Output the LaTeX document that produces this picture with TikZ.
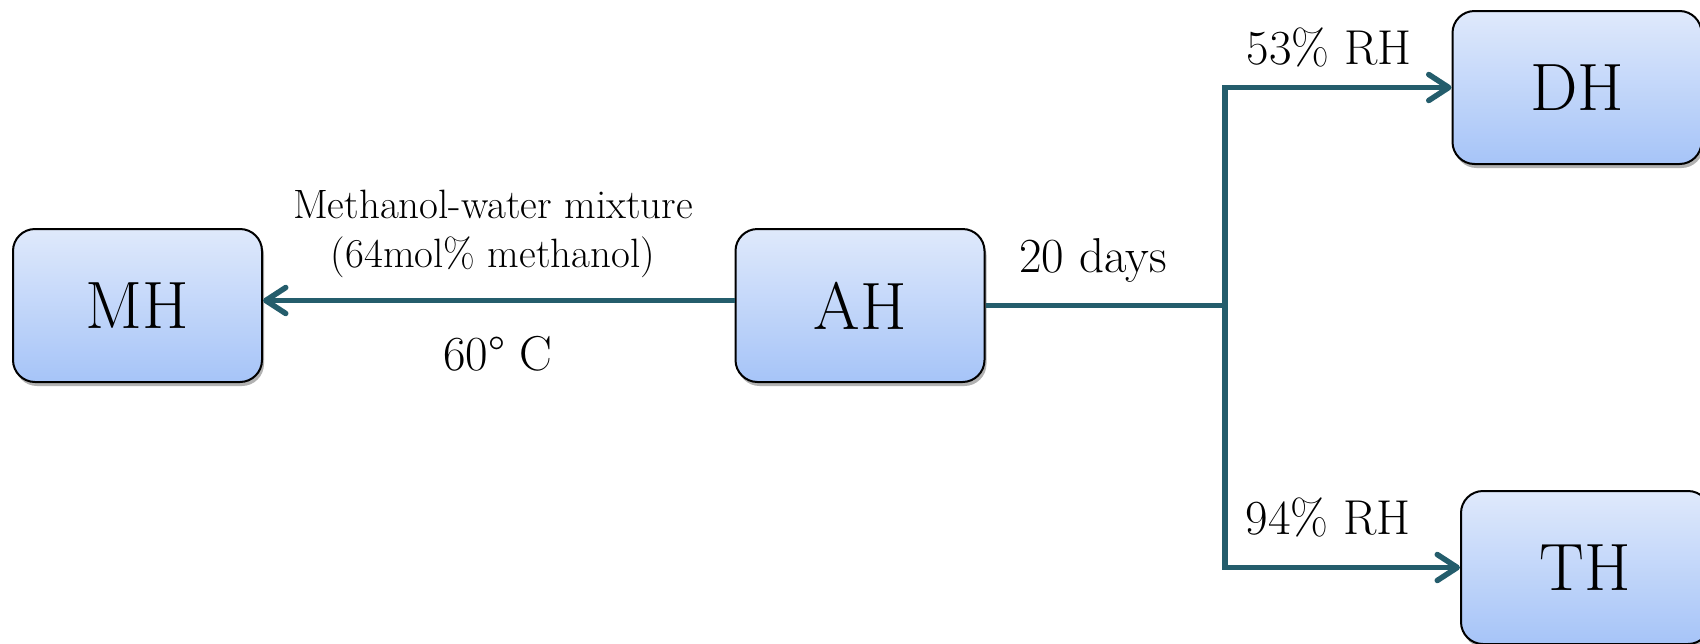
\documentclass[tikz,border=0pt]{standalone}
\usepackage{fontspec}
\usetikzlibrary{arrows.meta,shadows}
\definecolor{linec}{HTML}{245D6C}
\definecolor{boxtop}{HTML}{DFE9FB}
\definecolor{boxbot}{HTML}{A6C4F8}
\tikzset{
  box/.style={draw=black, line width=2pt, rounded corners=22pt,
    minimum width=249pt, minimum height=153pt, inner sep=0pt,
    top color=boxtop, bottom color=boxbot,
    drop shadow={shadow xshift=2pt, shadow yshift=-4pt, opacity=0.3, fill=black},
    font=\fontsize{67}{72}\selectfont},
  conn/.style={draw=linec, line width=5.5pt},
  arr/.style={conn, -{Straight Barb[length=20pt,width=26pt,line cap=round,line join=round]}},
  lab/.style={anchor=base, inner sep=0pt, font=\fontsize{49}{54}\selectfont},
  smalllab/.style={anchor=base, inner sep=0pt, font=\fontsize{41}{45}\selectfont}
}
\begin{document}
\begin{tikzpicture}[x=1pt,y=-1pt]
\useasboundingbox (0,0) rectangle (1700,643);
\node[box] (MH) at (137.5,305.5) {MH};
\node[box] (AH) at (860,305.5) {AH};
\node[box] (DH) at (1577,87.5) {DH};
\node[box] (TH) at (1585.5,567.5) {TH};
\coordinate (J) at (1225,305.5);
\draw[arr] ([yshift=5pt]AH.west) -- ([yshift=5pt]MH.east);
\draw[conn] (AH.east) -- (J);
\draw[arr] ([yshift=-2.75pt]J) |- (DH.west);
\draw[arr] ([yshift=2.75pt]J) |- (TH.west);
\node[smalllab] (t1) at (493,218) {Methanol-water mixture};
\node[smalllab] (t2) at (493,267) {(64mol\% methanol)};
\node[lab] (t3) at (498,370) {60° C};
\node[lab] (t4) at (1093,272) {20 days};
\node[lab] (t5) at (1329,64) {53\% RH};
\node[lab] (t6) at (1328,534) {94\% RH};
\end{tikzpicture}
\end{document}
